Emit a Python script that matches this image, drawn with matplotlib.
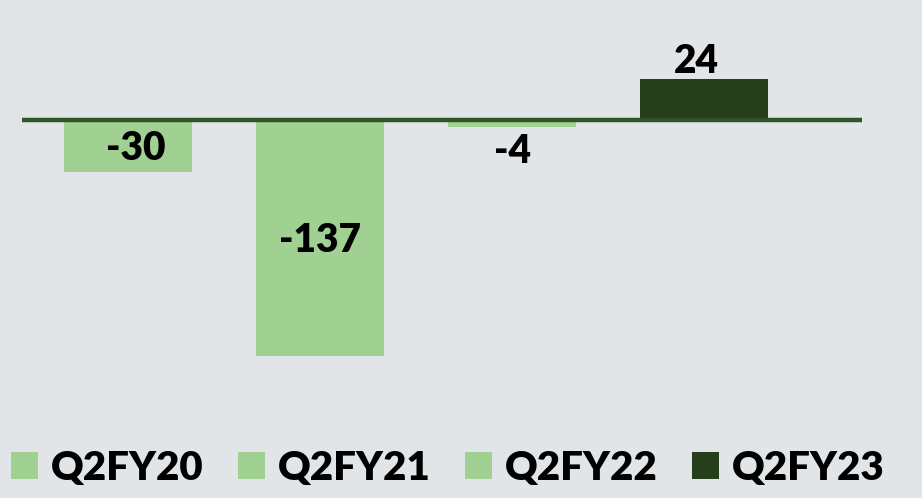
import matplotlib
matplotlib.use("Agg")
import matplotlib.pyplot as plt
from matplotlib.patches import Patch

categories = ["Q2FY20", "Q2FY21", "Q2FY22", "Q2FY23"]
values = [-30, -137, -4, 24]
labels = ["-30", "-137", "-4", "24"]
colors = ["#a0d092", "#a0d092", "#a0d092", "#253f1d"]

plt.rcParams['font.family'] = ['Lato', 'DejaVu Sans']

W, H = 922, 498
fig = plt.figure(figsize=(W / 100, H / 100), dpi=100)
bg = "#e2e5e8"
fig.patch.set_facecolor(bg)

ax = fig.add_axes([22 / W, 1 - 420 / H, (862 - 22) / W, 420 / H])
ax.set_facecolor(bg)
x = list(range(len(categories)))
ax.bar(x, values, width=0.666, color=colors, zorder=2)
ax.set_xlim(-0.55, 3.82)
ax.set_ylim(-174, 70)
ax.axhline(0, color="#2f5526", lw=3.2, zorder=3)
for s in ax.spines.values():
    s.set_visible(False)
ax.set_xticks([])
ax.set_yticks([])

# data labels
offsets = {0: (0.04, -16), 1: (0.0, -70), 2: (0.0, -18), 3: (-0.04, 34)}
for i, (v, lab) in enumerate(zip(values, labels)):
    dx, dy = offsets[i]
    ax.text(i + dx, dy, lab, ha="center", va="center",
            fontsize=28, fontweight="heavy", color="black", zorder=4)

handles = [Patch(facecolor=c, edgecolor="none") for c in colors]
fig.legend(handles, categories, loc="center", bbox_to_anchor=(0.486, 1 - 468 / H),
           ncol=4, frameon=False, handlelength=0.67, handleheight=0.67,
           handletextpad=0.32, columnspacing=0.85, borderpad=0.2,
           prop={"weight": "heavy", "size": 29})

fig.savefig("out.png", dpi=100, facecolor=bg)
